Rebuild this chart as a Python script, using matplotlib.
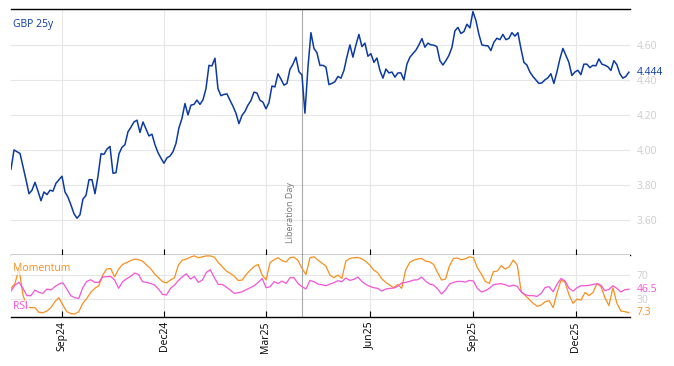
import pandas as pd
import matplotlib
matplotlib.use("Agg")
import matplotlib.pyplot as plt
import matplotlib.dates as mdates
from matplotlib.ticker import FixedLocator, FormatStrFormatter

plt.rcParams["font.family"] = ["Open Sans", "DejaVu Sans"]

# ── Data ─────────────────────────────────────────────────────────────────────

START, END = "2024-07-18", "2026-01-17"
LIB_DAY = pd.Timestamp("2025-04-02")

gbp_25y = [
    3.89, 4.00, 3.99, 3.98, 3.905, 3.83, 3.75, 3.77, 3.815, 3.765,
    3.71, 3.76, 3.745, 3.77, 3.765, 3.81, 3.83, 3.85, 3.76, 3.73,
    3.685, 3.636, 3.61, 3.63, 3.72, 3.74, 3.83, 3.83, 3.75, 3.85,
    3.978, 3.975, 4.005, 4.02, 3.867, 3.87, 3.978, 4.015, 4.03, 4.104,
    4.13, 4.16, 4.17, 4.10, 4.16, 4.12, 4.08, 4.09, 4.03, 3.985,
    3.953, 3.924, 3.955, 3.965, 3.99, 4.037, 4.127, 4.18, 4.265, 4.20,
    4.256, 4.26, 4.285, 4.26, 4.286, 4.35, 4.483, 4.48, 4.524, 4.35,
    4.31, 4.317, 4.32, 4.284, 4.25, 4.21, 4.15, 4.197, 4.22, 4.256,
    4.282, 4.33, 4.325, 4.284, 4.273, 4.235, 4.27, 4.365, 4.36, 4.435,
    4.405, 4.37, 4.38, 4.46, 4.49, 4.53, 4.447, 4.428, 4.21, 4.47,
    4.67, 4.58, 4.555, 4.483, 4.483, 4.473, 4.373, 4.38, 4.39, 4.42,
    4.41, 4.454, 4.532, 4.60, 4.53, 4.60, 4.66, 4.59, 4.61, 4.535,
    4.55, 4.50, 4.525, 4.454, 4.41, 4.462, 4.44, 4.445, 4.416, 4.44,
    4.44, 4.40, 4.49, 4.53, 4.55, 4.57, 4.60, 4.636, 4.587, 4.61,
    4.60, 4.598, 4.59, 4.51, 4.485, 4.51, 4.54, 4.585, 4.68, 4.70,
    4.665, 4.676, 4.718, 4.697, 4.79, 4.74, 4.66, 4.60, 4.596, 4.595,
    4.568, 4.615, 4.638, 4.63, 4.66, 4.63, 4.637, 4.67, 4.65, 4.67,
    4.58, 4.50, 4.485, 4.445, 4.42, 4.40, 4.38, 4.383, 4.40, 4.412,
    4.435, 4.38, 4.445, 4.52, 4.58, 4.54, 4.50, 4.425, 4.445, 4.455,
    4.43, 4.49, 4.49, 4.47, 4.483, 4.48, 4.52, 4.49, 4.484, 4.475,
    4.454, 4.51, 4.487, 4.435, 4.41, 4.42, 4.444,
]

momentum = [
    47.8, 56, 81, 36.7, 17, 15.6, 15.6, 7.8, 7.2, 10,
    15.6, 25.6, 32.2, 20, 8.9, 5.6, 5, 8.9, 22.8, 31,
    41, 47.8, 52, 70, 80, 81, 67, 80, 87.8, 91,
    94, 96.7, 95.6, 93.3, 86.7, 81, 72, 65.6, 59, 57,
    61.7, 65.6, 86.7, 95, 96.7, 100, 102, 99, 100.5, 102,
    102, 100, 91, 84, 76.7, 72.8, 68.3, 61, 61.7, 71,
    78, 84.4, 87.8, 70, 62, 91, 95.6, 99, 94, 92,
    99, 100, 94.4, 81, 71, 99, 100.5, 95, 90, 85,
    70, 65.6, 70, 64.4, 93.3, 97.8, 98.9, 99.4, 97.2, 92.8,
    86.7, 78.3, 73.9, 63.9, 57.8, 53.3, 48.9, 54.4, 47.8, 78.3,
    91, 95, 96.7, 97.8, 93.3, 92.2, 87.8, 74.4, 61.7, 63.3,
    85.6, 97.8, 98.3, 95.6, 97.2, 100.5, 99, 82.2, 71.7, 59.4,
    56, 75.6, 76.7, 85.6, 80, 83.9, 95, 86.7, 42.2, 36.1,
    29.4, 22.8, 17.8, 20, 25.6, 27.2, 15.6, 41, 61.7, 57.8,
    36.7, 22.8, 30, 28.3, 41, 35.6, 41, 56, 50.6, 32.2,
    19, 48.9, 22.8, 10, 8.9, 7.3,
]

rsi = [
    43.3, 53.3, 57.8, 47.8, 35.6, 35.6, 45, 41, 39.4, 46.7,
    45, 50.6, 55, 57.2, 46.7, 35.6, 32.2, 31, 48.9, 59.4,
    62.2, 57.8, 57.8, 66.7, 67.2, 67.8, 61.7, 47.8, 58.9, 63.9,
    67.8, 73.3, 71, 58.9, 57.8, 56, 53.3, 46.7, 37.8, 36.7,
    47.8, 53.3, 61, 67.2, 72.2, 63.3, 67.8, 57.8, 61.7, 74.4,
    78.9, 65.6, 54.4, 54.4, 50, 45, 39.4, 40.6, 42.2, 45.6,
    48.9, 52.2, 57.8, 64.4, 48.9, 50.6, 58.9, 56, 60, 56,
    65.6, 65.6, 56, 50.6, 46.7, 61, 58.9, 55, 53.9, 52.2,
    55, 57.2, 60.6, 58.9, 65, 61.1, 62.8, 66.7, 59.4, 54.4,
    51.1, 48.9, 47.8, 43.3, 46.7, 47.8, 48.3, 51.1, 56.7, 57.8,
    59.4, 61.7, 62.2, 66.7, 60, 55, 53.3, 47.2, 38.3, 45,
    55, 57.8, 59.4, 59.4, 58.3, 61.1, 60, 47.8, 41.7, 43.9,
    47.8, 53.9, 55, 55.6, 53.9, 51.1, 53.3, 51.1, 41.7, 37.2,
    35.6, 35.6, 34.4, 39.4, 49.4, 50.6, 42.2, 55, 64.4, 60,
    47.8, 43.3, 48.9, 52.2, 52.2, 52.8, 54.4, 55.6, 53.3, 43.9,
    46.1, 52.2, 47.8, 41.7, 45.6, 46.5,
]

price_ticks = [3.60, 3.80, 4.00, 4.20, 4.40, 4.60]
osc_ticks = [30, 70]

dates_px = pd.date_range(START, END, periods=len(gbp_25y))
dates_osc = pd.date_range(START, END, periods=len(momentum))

# ── Style ────────────────────────────────────────────────────────────────────

BLUE = "#0c3aa3"
ORANGE = "#f7901e"
MAGENTA = "#f553d8"
GRID = "#e6e6e6"
TICK_GRAY = "#cccccc"
FS = 7.5

fig = plt.figure(figsize=(6.74, 3.66), dpi=100)
ax = fig.add_axes([11 / 674, 1 - 255 / 366, 619 / 674, 246 / 366])
ax2 = fig.add_axes([11 / 674, 1 - 317 / 366, 619 / 674, 62 / 366], sharex=ax)

for a in (ax, ax2):
    a.spines["left"].set_visible(False)
    a.spines["right"].set_visible(False)
    a.grid(True, color=GRID, lw=0.8)
    a.set_axisbelow(True)
    a.yaxis.tick_right()
    a.tick_params(axis="y", length=0, pad=5, labelsize=FS, labelcolor=TICK_GRAY)
    a.tick_params(axis="x", direction="in", length=4, width=0.8, color="black")
    a.axvline(LIB_DAY, color="#aaaaaa", lw=0.8)
ax.spines["top"].set_linewidth(1.0)
ax.spines["bottom"].set_linewidth(1.0)
ax2.spines["top"].set_visible(False)
ax2.spines["bottom"].set_linewidth(1.0)

# ── Main panel ───────────────────────────────────────────────────────────────

ax.plot(dates_px, gbp_25y, color=BLUE, lw=1.1)
ax.set_ylim(3.40, 4.805)
ax.yaxis.set_major_locator(FixedLocator(price_ticks))
ax.yaxis.set_major_formatter(FormatStrFormatter("%.2f"))
ax.tick_params(axis="x", labelbottom=False)
ax.text(0.004, 0.935, "GBP 25y", transform=ax.transAxes, color=BLUE,
        fontsize=FS, ha="left", va="center")
ax.annotate(f"{gbp_25y[-1]:.3f}", xy=(1, gbp_25y[-1]),
            xycoords=("axes fraction", "data"), xytext=(5, 0),
            textcoords="offset points", color=BLUE, fontsize=FS, va="center")
ax.annotate("Liberation Day", xy=(LIB_DAY, 0), xycoords=("data", "axes fraction"),
            xytext=(-5, 8.5), textcoords="offset points", rotation=90,
            ha="right", va="bottom", color="#777777", fontsize=6.5)

# ── Oscillator panel ─────────────────────────────────────────────────────────

ax2.plot(dates_osc, momentum, color=ORANGE, lw=0.9)
ax2.plot(dates_osc, rsi, color=MAGENTA, lw=0.9)
ax2.set_ylim(0, 103.5)
ax2.yaxis.set_major_locator(FixedLocator(osc_ticks))
ax2.annotate(f"{rsi[-1]:.1f}", xy=(1, rsi[-1]), xycoords=("axes fraction", "data"),
             xytext=(5, 0), textcoords="offset points", color=MAGENTA,
             fontsize=FS, va="center")
ax2.annotate(f"{momentum[-1]:.1f}", xy=(1, momentum[-1]),
             xycoords=("axes fraction", "data"), xytext=(5, 0),
             textcoords="offset points", color=ORANGE, fontsize=FS, va="center")
box = dict(facecolor="white", edgecolor="none", alpha=0.7, pad=0.5)
ax2.text(0.004, 0.78, "Momentum", transform=ax2.transAxes, color=ORANGE,
         fontsize=FS, ha="left", va="center", bbox=box)
ax2.text(0.004, 0.17, "RSI", transform=ax2.transAxes, color=MAGENTA,
         fontsize=FS, ha="left", va="center", bbox=box)

ax2.xaxis.set_major_locator(mdates.MonthLocator(bymonth=[3, 6, 9, 12]))
ax2.xaxis.set_major_formatter(mdates.DateFormatter("%b%y"))
ax2.tick_params(axis="x", labelsize=FS, pad=3, labelrotation=90, labelcolor="black")
ax2.set_xlim(pd.Timestamp(START), pd.Timestamp("2026-01-18"))

plt.savefig("out.png", dpi=100)
